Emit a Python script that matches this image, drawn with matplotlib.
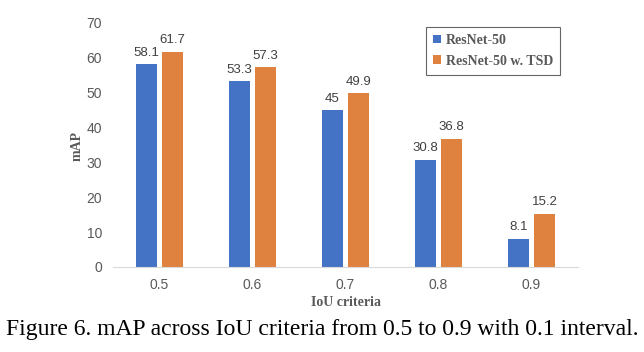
import matplotlib
matplotlib.use("Agg")
import matplotlib.pyplot as plt
import numpy as np

categories = ["0.5", "0.6", "0.7", "0.8", "0.9"]
resnet50 = [58.1, 53.3, 45, 30.8, 8.1]
resnet50_tsd = [61.7, 57.3, 49.9, 36.8, 15.2]
series_names = ["ResNet-50", "ResNet-50 w. TSD"]
yticks = [0, 10, 20, 30, 40, 50, 60, 70]

blue = "#4472C4"
orange = "#E0823F"

fig = plt.figure(figsize=(6.44, 3.52), dpi=100)
ax = fig.add_axes([113/644, 1-267/352, (578-113)/644, 244/352])

x = np.arange(len(categories))
w = 0.225
off = 0.14
b1 = ax.bar(x - off, resnet50, w, color=blue, label=series_names[0])
b2 = ax.bar(x + off, resnet50_tsd, w, color=orange, label=series_names[1])

for bars, vals in ((b1, resnet50), (b2, resnet50_tsd)):
    for r, v in zip(bars, vals):
        ax.annotate(f"{v:g}", (r.get_x() + r.get_width()/2, v), xytext=(0, 4),
                    textcoords="offset points", ha="center", va="bottom",
                    fontsize=9.5, color="#404040", family="Liberation Sans")

ax.set_xlim(-0.5, len(categories) - 0.5)
ax.set_ylim(0, 70)
ax.set_yticks(yticks)
ax.set_xticks(x)
ax.set_xticklabels(categories)
for s in ["top", "right", "left"]:
    ax.spines[s].set_visible(False)
ax.spines["bottom"].set_color("#D9D9D9")
ax.tick_params(axis="both", length=0, labelsize=10, labelcolor="#595959")
ax.tick_params(axis="y", pad=8)
ax.tick_params(axis="x", pad=8)
for lbl in ax.get_xticklabels() + ax.get_yticklabels():
    lbl.set_family("Liberation Sans")

fig.text(77/644, 1-146/352, "mAP", rotation=90, ha="center", va="center",
         fontsize=10, fontweight="bold", color="#595959", family="Liberation Serif")
fig.text(346/644, 1-302/352, "IoU criteria", ha="center", va="center",
         fontsize=10, fontweight="bold", color="#595959", family="Liberation Serif")

leg = fig.legend(loc="upper left", bbox_to_anchor=(426/644, 1-27/352),
                 prop={"family": "Liberation Serif", "weight": "bold", "size": 10},
                 frameon=True, fancybox=False, handlelength=0.55, handleheight=0.55,
                 handletextpad=0.4, borderpad=0.5, labelspacing=0.55, borderaxespad=0)
leg.get_frame().set_edgecolor("#404040")
leg.get_frame().set_linewidth(0.8)
for t in leg.get_texts():
    t.set_color("#595959")

fig.text(322/644, 1-330/352, "Figure 6. mAP across IoU criteria from 0.5 to 0.9 with 0.1 interval.",
         ha="center", va="center", fontsize=17, color="black", family="Liberation Serif")

fig.savefig("out.png", dpi=100)
